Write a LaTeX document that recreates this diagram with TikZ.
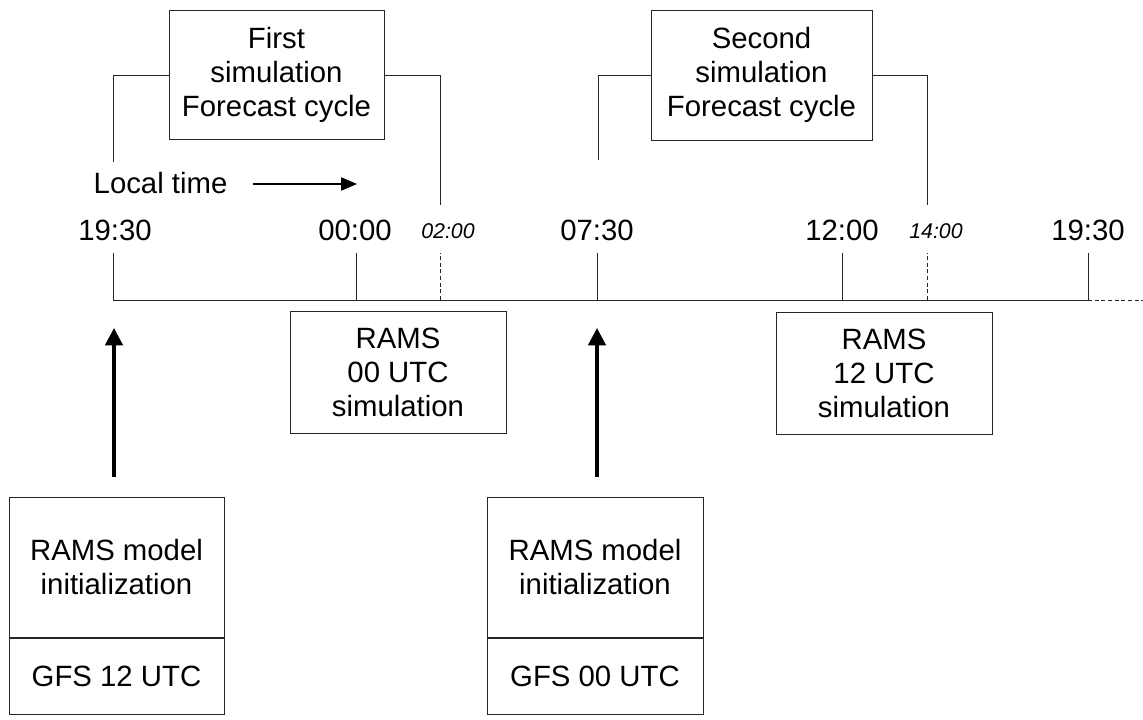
\documentclass[tikz,border=0pt]{standalone}
\usepackage{fontspec}
\setmainfont{Liberation Sans}
\usepackage{tikz}
\usetikzlibrary{arrows.meta, positioning, calc}

\tikzset{
    box/.style={draw=black!85, line width=0.75pt, align=center, inner sep=0pt,
        font=\fontsize{22}{25.5}\selectfont},
    timelab/.style={font=\fontsize{22}{24}\selectfont},
    timelabit/.style={font=\fontsize{16}{18}\selectfont\itshape},
    axisline/.style={draw=black!85, line width=0.75pt},
    dashline/.style={axisline, dash pattern=on 3pt off 2pt},
    initarrow/.style={line width=2.6pt, -{Triangle[length=13pt,width=13pt]}},
    timearrow/.style={line width=1pt, -{Triangle[length=12pt,width=10pt]}}
}

\begin{document}
\begin{tikzpicture}[x=0.75pt, y=-0.75pt]
    \useasboundingbox (0,0) rectangle (1143,719);

    % Time axis
    \coordinate (t1) at (113,300);
    \coordinate (t2) at (356,300);
    \coordinate (t3) at (440,300);
    \coordinate (t4) at (597,300);
    \coordinate (t5) at (842,300);
    \coordinate (t6) at (927,300);
    \coordinate (t7) at (1088,300);
    \coordinate (tend) at (1143,300);

    \draw[axisline] (t1) -- (t7);
    \draw[dashline] (t7) -- (tend);

    \draw[axisline] (t1) -- ++(0,-47);
    \draw[axisline] (t2) -- ++(0,-47);
    \draw[dashline] (t3) -- ++(0,-47);
    \draw[axisline] (t4) -- ++(0,-47);
    \draw[axisline] (t5) -- ++(0,-47);
    \draw[dashline] (t6) -- ++(0,-47);
    \draw[axisline] (t7) -- ++(0,-47);

    % Hours
    \node[timelab] (h1) at (115,230) {19:30};
    \node[timelab] (h2) at (355,230) {00:00};
    \node[timelabit] (h3) at (448,231) {02:00};
    \node[timelab] (h4) at (597,230) {07:30};
    \node[timelab] (h5) at (842,230) {12:00};
    \node[timelabit] (h6) at (936,231) {14:00};
    \node[timelab] (h7) at (1088,230) {19:30};

    % Local time
    \node[timelab, anchor=west] (lt) at (89,183) {Local time};
    \coordinate (la1) at (253,184);
    \coordinate (la2) at (357,184);
    \draw[timearrow] (la1) -- (la2);

    % Forecast cycles
    \node[box, minimum width=161.25pt, minimum height=96.75pt] (cyc1) at (276.5,75) {First\\simulation\\Forecast cycle};
    \node[box, minimum width=165.75pt, minimum height=97.5pt] (cyc2) at (761.5,75) {Second\\simulation\\Forecast cycle};

    \coordinate (c1a) at (113,162);
    \coordinate (c1b) at (440,205);
    \coordinate (c2a) at (598,160);
    \coordinate (c2b) at (927,205);
    \draw[axisline] (c1a) |- (cyc1.west);
    \draw[axisline] (cyc1.east) -| (c1b);
    \draw[axisline] (c2a) |- (cyc2.west);
    \draw[axisline] (cyc2.east) -| (c2b);

    % RAMS runs
    \node[box, minimum width=162pt, minimum height=91.5pt] (run00) at (398,372) {RAMS\\00 UTC\\simulation};
    \node[box, minimum width=162pt, minimum height=91.5pt] (run12) at (884,373) {RAMS\\12 UTC\\simulation};

    % Initialization
    \node[box, minimum width=161.25pt, minimum height=105pt] (init1) at (116.5,567) {RAMS model\\initialization};
    \node[box, minimum width=161.25pt, minimum height=57pt, below=0pt of init1] (gfs12) {GFS 12 UTC};
    \node[box, minimum width=162pt, minimum height=105pt] (init2) at (595,567) {RAMS model\\initialization};
    \node[box, minimum width=162pt, minimum height=57pt, below=0pt of init2] (gfs00) {GFS 00 UTC};

    \coordinate (a1) at (114,300);
    \coordinate (a2) at (597,300);
    \draw[initarrow, shorten <=15pt, shorten >=21pt] (init1.north -| a1) -- (a1);
    \draw[initarrow, shorten <=15pt, shorten >=21pt] (init2.north -| a2) -- (a2);
\end{tikzpicture}
\end{document}
